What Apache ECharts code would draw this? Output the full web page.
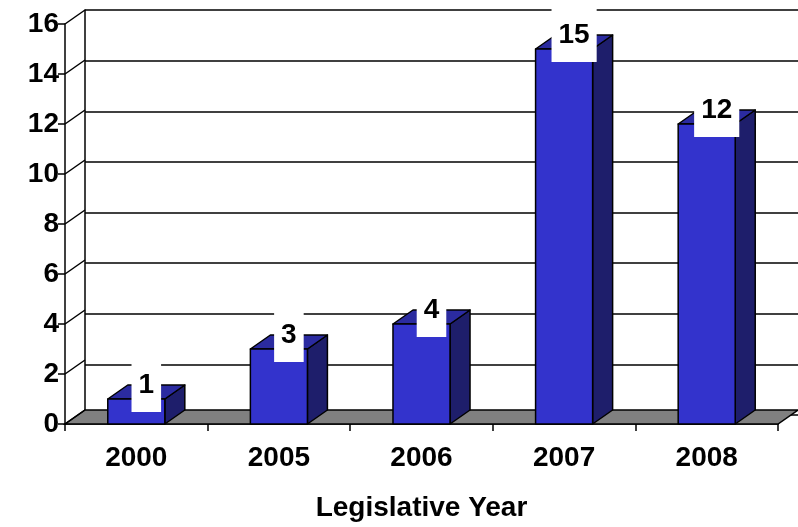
<!DOCTYPE html>
<html>
<head>
<meta charset="utf-8">
<script src="https://cdn.jsdelivr.net/npm/echarts@6/dist/echarts.min.js"></script>
<style>
  html, body { margin: 0; padding: 0; background: #fff; }
  #chart { width: 798px; height: 527px; }
</style>
</head>
<body>
<div id="chart"></div>
<script>
var years = ['2000', '2005', '2006', '2007', '2008'];
var counts = [1, 3, 4, 15, 12];
var yTicks = [0, 2, 4, 6, 8, 10, 12, 14, 16];

/* depth of the fake 3d */
var DX = 20, DY = 14;
var FONT = 'bold 28px "Liberation Sans", Arial, sans-serif';

var chart = echarts.init(document.getElementById('chart'));

var barData = years.map(function (y, i) { return [i, counts[i]]; });

function renderBar(params, api) {
    var i = api.value(0), v = api.value(1);
    var top = api.coord([i, v]);
    var base = api.coord([i, 0]);
    var w = api.size([1, 0])[0] * 0.4;
    var x0 = top[0] - w / 2, x1 = top[0] + w / 2;
    var ln = { stroke: '#000', lineWidth: 1.5, lineJoin: 'round' };
    return {
        type: 'group',
        children: [
            { type: 'polygon', shape: { points: [[x1, top[1]], [x1 + DX, top[1] - DY], [x1 + DX, base[1] - DY], [x1, base[1]]] },
              style: Object.assign({ fill: '#1e1e6b' }, ln) },
            { type: 'polygon', shape: { points: [[x0, top[1]], [x0 + DX, top[1] - DY], [x1 + DX, top[1] - DY], [x1, top[1]]] },
              style: Object.assign({ fill: '#2b2ba0' }, ln) },
            { type: 'rect', shape: { x: x0, y: top[1], width: w, height: base[1] - top[1] },
              style: Object.assign({ fill: '#3333cc' }, ln) },
            { type: 'text', x: top[0] + DX / 2, y: top[1] - DY, z2: 20,
              style: { text: String(v), font: FONT, fill: '#000', backgroundColor: '#fff',
                       padding: [13, 7], align: 'center', verticalAlign: 'middle' } }
        ]
    };
}

function renderFloor(params, api) {
    var cs = params.coordSys;
    var yb = cs.y + cs.height;
    return {
        type: 'polygon',
        shape: { points: [[cs.x, yb], [cs.x + cs.width, yb], [cs.x + cs.width + DX, yb - DY], [cs.x + DX, yb - DY]] },
        style: { fill: '#808080', stroke: '#000', lineWidth: 1.5 }
    };
}

function renderLink(params, api) {
    var cs = params.coordSys;
    var y = api.coord([0, api.value(1)])[1];
    return {
        type: 'line',
        shape: { x1: cs.x, y1: y, x2: cs.x + DX, y2: y - DY },
        style: { stroke: '#000', lineWidth: 1.5 }
    };
}

var option = {
    backgroundColor: '#fff',
    animation: false,
    grid: [
        { left: 65, right: 20, top: 24, bottom: 98, containLabel: false },
        { left: 85, right: 0, top: 10, bottom: 112, containLabel: false }
    ],
    xAxis: [
        {
            type: 'category', gridIndex: 0, data: years, boundaryGap: true,
            axisLine: { show: true, lineStyle: { color: '#000', width: 1.5 } },
            axisTick: { show: true, length: 7, lineStyle: { color: '#000', width: 1.5 } },
            axisLabel: { color: '#000', fontWeight: 'bold', fontSize: 28, fontFamily: 'Liberation Sans, Arial', margin: 20 },
            name: 'Legislative Year', nameLocation: 'middle', nameGap: 70,
            nameTextStyle: { color: '#000', fontWeight: 'bold', fontSize: 28, fontFamily: 'Liberation Sans, Arial' },
            splitLine: { show: false }
        },
        { type: 'value', gridIndex: 1, min: 0, max: 1, show: false }
    ],
    yAxis: [
        {
            type: 'value', gridIndex: 0, min: 0, max: 16, interval: 2,
            axisLine: { show: true, lineStyle: { color: '#000', width: 1.5 } },
            axisTick: { show: true, length: 7, lineStyle: { color: '#000', width: 1.5 } },
            axisLabel: { color: '#000', fontWeight: 'bold', fontSize: 28, fontFamily: 'Liberation Sans, Arial', margin: 6 },
            splitLine: { show: false }
        },
        {
            type: 'value', gridIndex: 1, min: 0, max: 16, interval: 2,
            axisLine: { show: true, lineStyle: { color: '#000', width: 1.5 } },
            axisTick: { show: false },
            axisLabel: { show: false },
            splitLine: { show: true, lineStyle: { color: '#000', width: 1.5 } }
        }
    ],
    series: [
        { type: 'custom', xAxisIndex: 0, yAxisIndex: 0, data: [[0, 0]], renderItem: renderFloor, silent: true },
        { type: 'custom', xAxisIndex: 0, yAxisIndex: 0, data: yTicks.map(function (t) { return [0, t]; }), renderItem: renderLink, silent: true },
        { type: 'custom', xAxisIndex: 0, yAxisIndex: 0, data: barData, renderItem: renderBar, silent: true }
    ]
};
chart.setOption(option);
</script>
</body>
</html>
